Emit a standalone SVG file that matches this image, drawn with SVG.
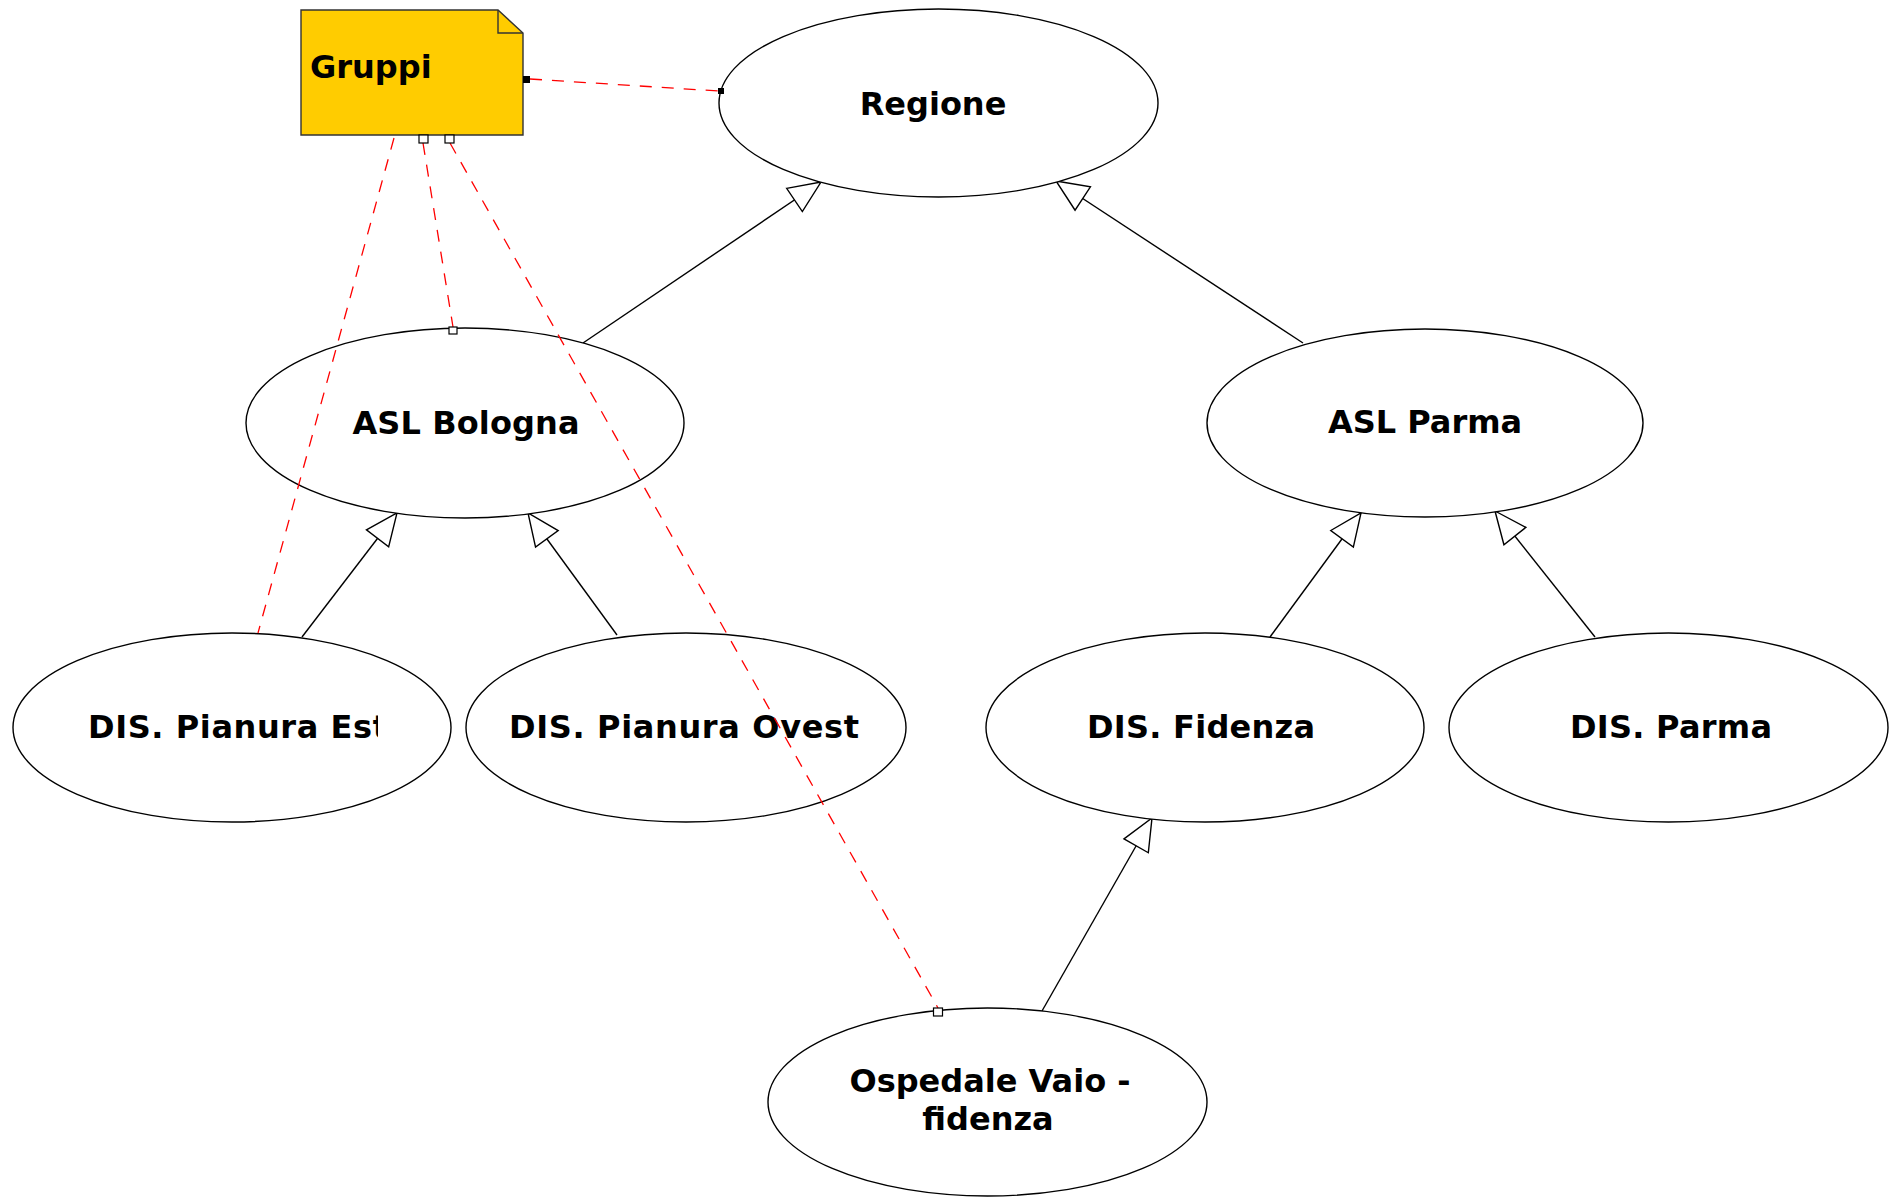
<svg xmlns="http://www.w3.org/2000/svg" width="1896" height="1197" viewBox="0 0 1896 1197">
<style>
.node ellipse{fill:#fff;stroke:#000;stroke-width:1.4}
.lbl{font-family:"DejaVu Sans",sans-serif;font-weight:bold;font-size:32px;fill:#000;text-anchor:middle}
.gen{stroke:#000;stroke-width:1.4;fill:none;marker-end:url(#tri)}
.dep{stroke:#ff0000;stroke-width:1.3;fill:none;stroke-dasharray:12,10}
.hw{fill:#fff;stroke:#000;stroke-width:1.2}
.hb{fill:#000;stroke:none}
</style>
<defs>
<marker id="tri" markerUnits="userSpaceOnUse" markerWidth="34" markerHeight="30" refX="32" refY="14" orient="auto" overflow="visible">
<path d="M0,0 L32,14 L0,28 Z" fill="#fff" stroke="#000" stroke-width="1.4"/>
</marker>
<clipPath id="clipEst"><rect x="0" y="600" width="378" height="200"/></clipPath>
</defs>
<rect width="1896" height="1197" fill="#fff"/>
<g id="connectors">
<line class="gen" x1="583" y1="343" x2="821" y2="182"/>
<line class="gen" x1="1303" y1="343" x2="1056" y2="181"/>
<line class="gen" x1="302" y1="637" x2="397" y2="513"/>
<line class="gen" x1="617" y1="635" x2="528" y2="513"/>
<line class="gen" x1="1270" y1="637" x2="1361" y2="513"/>
<line class="gen" x1="1595" y1="637" x2="1495" y2="511"/>
<line class="gen" x1="1042" y1="1011" x2="1152" y2="818"/>
</g>
<g id="regione" class="node"><ellipse cx="938.5" cy="103" rx="219.5" ry="94"/><text class="lbl" x="933" y="115">Regione</text></g>
<g id="asl-bologna" class="node"><ellipse cx="465" cy="423" rx="219" ry="95"/><text class="lbl" x="466" y="434" textLength="227" lengthAdjust="spacing">ASL Bologna</text></g>
<g id="asl-parma" class="node"><ellipse cx="1425" cy="423" rx="218" ry="94"/><text class="lbl" x="1425" y="433">ASL Parma</text></g>
<g id="dis-pianura-est" class="node"><ellipse cx="232" cy="727.5" rx="219" ry="94.5"/><text class="lbl" x="88" y="738" style="text-anchor:start" textLength="300" lengthAdjust="spacing" clip-path="url(#clipEst)">DIS. Pianura Est</text></g>
<g id="dis-pianura-ovest" class="node"><ellipse cx="686" cy="727.5" rx="220" ry="94.5"/><text class="lbl" x="684" y="738" textLength="350" lengthAdjust="spacing">DIS. Pianura Ovest</text></g>
<g id="dis-fidenza" class="node"><ellipse cx="1205" cy="727.5" rx="219" ry="94.5"/><text class="lbl" x="1201" y="738" textLength="228" lengthAdjust="spacing">DIS. Fidenza</text></g>
<g id="dis-parma" class="node"><ellipse cx="1668.5" cy="727.5" rx="219.5" ry="94.5"/><text class="lbl" x="1671" y="738" textLength="202" lengthAdjust="spacing">DIS. Parma</text></g>
<g id="ospedale" class="node"><ellipse cx="987.5" cy="1102" rx="219.5" ry="94"/><text class="lbl" x="990" y="1092">Ospedale Vaio -</text><text class="lbl" x="988" y="1130">fidenza</text></g>
<g id="gruppi">
<path d="M301,10 L498,10 L523,33 L523,135 L301,135 Z" fill="#ffcc00" stroke="#333" stroke-width="1.4"/>
<path d="M498,10 L498,33 L523,33" fill="none" stroke="#333" stroke-width="1.4"/>
<text x="310" y="78" font-family="DejaVu Sans, sans-serif" font-weight="bold" font-size="32" fill="#000">Gruppi</text>
</g>
<g id="dependencies">
<line class="dep" x1="530" y1="79" x2="718" y2="91"/>
<line class="dep" x1="394" y1="138" x2="258" y2="633"/>
<line class="dep" x1="423" y1="143" x2="453" y2="327"/>
<line class="dep" x1="450" y1="143" x2="938" y2="1008"/>
<rect class="hb" x="523" y="76" width="7" height="7"/>
<rect class="hb" x="718" y="88" width="6" height="6"/>
<rect class="hw" x="419" y="135" width="9" height="8"/>
<rect class="hw" x="445" y="135" width="9" height="8"/>
<rect class="hw" x="449" y="327" width="8" height="7"/>
<rect class="hw" x="933.5" y="1008" width="9" height="8"/>
</g>
</svg>
